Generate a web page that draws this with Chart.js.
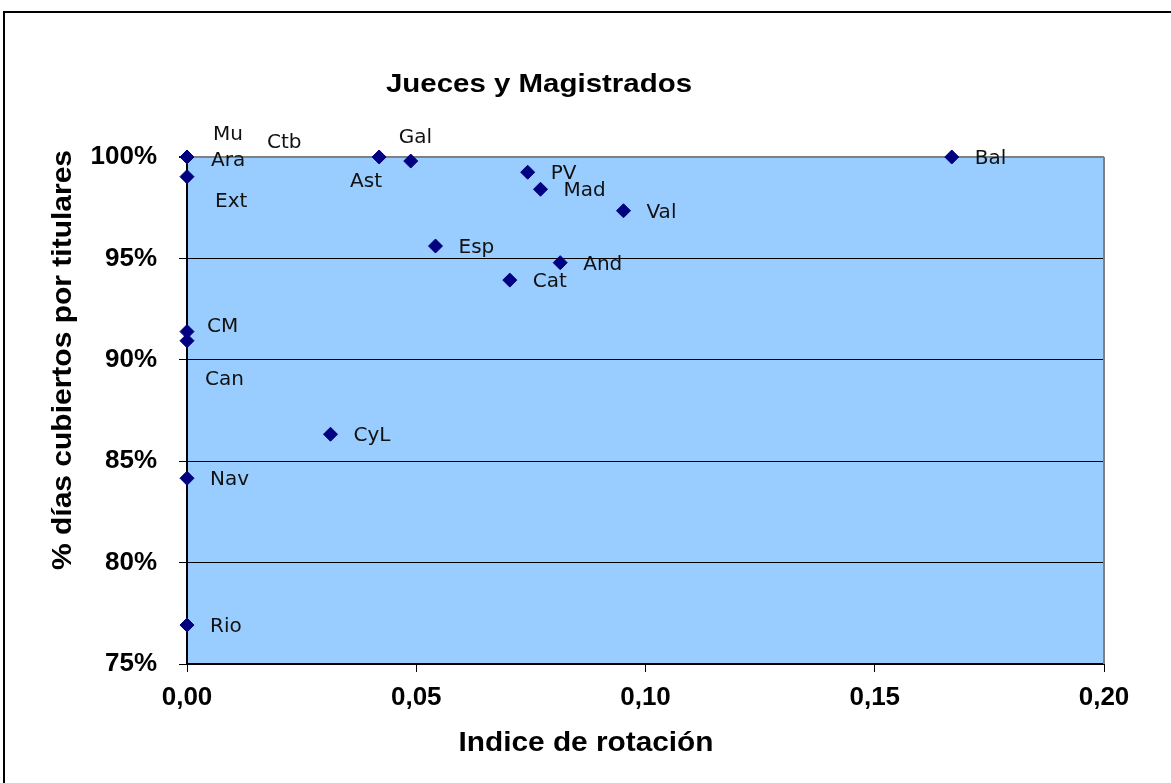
<!DOCTYPE html>
<html>
<head>
<meta charset="utf-8">
<script src="https://cdn.jsdelivr.net/npm/chart.js@4/dist/chart.umd.min.js"></script>
<style>
  html, body { margin: 0; padding: 0; background: #fff; }
  #chart { display: block; }
</style>
</head>
<body>
<canvas id="chart" width="1171" height="783"></canvas>
<script>
/* Jueces y Magistrados: coverage vs rotation index, one point per region. */

const REGIONS = ['Mu', 'Ara', 'Ctb', 'Ext', 'Ast', 'Gal', 'PV', 'Mad', 'Val', 'Esp',
  'And', 'Cat', 'Bal', 'CM', 'Can', 'CyL', 'Nav', 'Rio'];
const ROTATION = [0, 0, 0, 0, 0.0419, 0.0488, 0.0743, 0.0771, 0.0952, 0.0542,
  0.0814, 0.0704, 0.1668, 0, 0, 0.0313, 0, 0];
const COVERAGE = [100, 100, 100, 99.03, 100, 99.80, 99.25, 98.41, 97.35, 95.61,
  94.79, 93.93, 100, 91.39, 90.94, 86.33, 84.16, 76.92];
const X_TICKS = [0, 0.05, 0.10, 0.15, 0.20];
const Y_TICKS = [75, 80, 85, 90, 95, 100];

// label placement (pixels from the marker), the labels were hand placed in the original
const LABEL_OFFSETS = {
  Mu: [26, -22], Ara: [24, 4], Ctb: [80, -14], Ext: [28, 25], Ast: [-29, 25],
  Gal: [-12, -23], CM: [20, -5], Can: [18, 39],
};
const DEFAULT_OFFSET = [23, 2];

const FRAME = { left: 187, right: 1104, top: 157, bottom: 664 };
const W = 1171, H = 783;

const BOLD = 'Liberation Sans, Arial, sans-serif';

// draw text centred on (x, y), stretched horizontally to a given width
function stretchedText(ctx, text, x, y, width, angle) {
  ctx.save();
  ctx.translate(x, y);
  if (angle) ctx.rotate(angle);
  const w = ctx.measureText(text).width;
  ctx.scale(width / w, 1);
  ctx.textAlign = 'center';
  ctx.fillText(text, 0, 0);
  ctx.restore();
}

const decor = {
  id: 'decor',
  beforeDraw(chart) {
    const { ctx, chartArea: a } = chart;
    ctx.save();
    ctx.fillStyle = '#fff';
    ctx.fillRect(0, 0, W, H);
    ctx.strokeStyle = '#000';
    ctx.lineWidth = 2;
    ctx.strokeRect(4, 12, W + 50, H + 50);
    ctx.fillStyle = '#99ccff';
    ctx.fillRect(a.left, a.top, a.right - a.left, a.bottom - a.top);
    ctx.restore();
  },
  afterDatasetsDraw(chart) {
    const { ctx, chartArea: a } = chart;
    ctx.save();
    // right border of plot
    ctx.strokeStyle = '#808080';
    ctx.lineWidth = 2;
    ctx.beginPath();
    ctx.moveTo(a.right, a.top);
    ctx.lineTo(a.right, a.bottom);
    ctx.stroke();

    // point labels
    ctx.fillStyle = '#111';
    ctx.font = '20px "DejaVu Sans", Verdana, sans-serif';
    ctx.textAlign = 'left';
    ctx.textBaseline = 'middle';
    const meta = chart.getDatasetMeta(0);
    meta.data.forEach((pt, i) => {
      const name = REGIONS[i];
      const off = LABEL_OFFSETS[name] || DEFAULT_OFFSET;
      ctx.fillText(name, pt.x + off[0], pt.y + off[1]);
    });

    // titles
    ctx.fillStyle = '#000';
    ctx.textBaseline = 'alphabetic';
    ctx.font = 'bold 26px ' + BOLD;
    stretchedText(ctx, 'Jueces y Magistrados', 539, 92, 306);
    ctx.font = 'bold 28px ' + BOLD;
    stretchedText(ctx, 'Indice de rotación', 586, 751, 255);
    stretchedText(ctx, '% días cubiertos por titulares', 71, 360, 420, -Math.PI / 2);
    ctx.restore();
  },
};

new Chart(document.getElementById('chart'), {
  type: 'scatter',
  data: {
    datasets: [{
      label: 'Jueces y Magistrados',
      data: REGIONS.map((_, i) => ({ x: ROTATION[i], y: COVERAGE[i] })),
      pointStyle: 'rectRot',
      pointRadius: 7,
      pointHoverRadius: 7,
      backgroundColor: '#000080',
      borderColor: '#000080',
      borderWidth: 1,
      clip: false,
    }],
  },
  options: {
    responsive: false,
    animation: false,
    devicePixelRatio: 1,
    layout: { padding: { top: FRAME.top, right: W - FRAME.right, left: 0, bottom: 0 } },
    plugins: {
      legend: { display: false },
      tooltip: { enabled: false },
      title: { display: false },
    },
    scales: {
      x: {
        type: 'linear',
        min: 0,
        max: 0.2,
        afterFit: (s) => { s.height = H - FRAME.bottom; },
        afterBuildTicks: (s) => { s.ticks = X_TICKS.map((v) => ({ value: v })); },
        ticks: {
          color: '#000',
          padding: 10,
          font: { family: BOLD, size: 26, weight: 'bold' },
          callback: (v) => v.toFixed(2).replace('.', ','),
        },
        grid: { drawOnChartArea: false, drawTicks: true, tickLength: 8, tickColor: '#000' },
        border: { color: '#000', width: 2 },
      },
      y: {
        type: 'linear',
        min: 75,
        max: 100,
        afterFit: (s) => { s.width = FRAME.left; },
        afterBuildTicks: (s) => { s.ticks = Y_TICKS.map((v) => ({ value: v })); },
        ticks: {
          color: '#000',
          padding: 22,
          font: { family: BOLD, size: 26, weight: 'bold' },
          callback: (v) => v + '%',
        },
        grid: {
          color: (c) => (c.tick && c.tick.value === 100 ? '#808080' : '#000'),
          lineWidth: (c) => (c.tick && c.tick.value === 100 ? 2 : 1),
          tickColor: '#000',
          tickLength: 8,
        },
        border: { color: '#000', width: 2 },
      },
    },
  },
  plugins: [decor],
});
</script>
</body>
</html>
